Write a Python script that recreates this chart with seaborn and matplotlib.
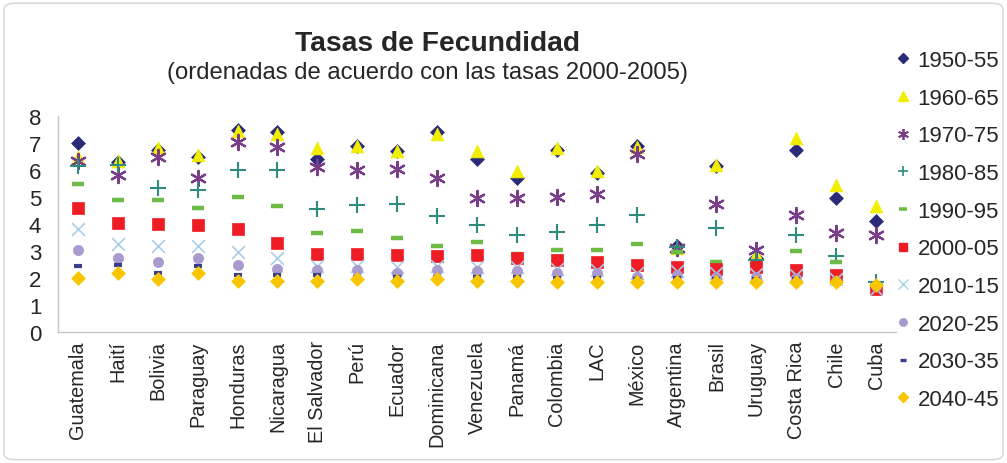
import numpy as np
import pandas as pd
import matplotlib
matplotlib.use("Agg")
import matplotlib.pyplot as plt
import seaborn as sns
from matplotlib.lines import Line2D
from matplotlib.patches import FancyBboxPatch

# ---------------- data ----------------
countries = ["Guatemala", "Haití", "Bolivia", "Paraguay", "Honduras", "Nicaragua",
             "El Salvador", "Perú", "Ecuador", "Dominicana", "Venezuela", "Panamá",
             "Colombia", "LAC", "México", "Argentina", "Brasil", "Uruguay",
             "Costa Rica", "Chile", "Cuba"]

periods = ["1950-55", "1960-65", "1970-75", "1980-85", "1990-95",
           "2000-05", "2010-15", "2020-25", "2030-35", "2040-45"]

s1950 = [7.0, 6.3, 6.75, 6.5, 7.5, 7.4, 6.4, 6.9, 6.7, 7.4, 6.4, 5.7, 6.75, 5.9, 6.9, 3.2, 6.15, 2.73, 6.75, 4.95, 4.1]
s1960 = [6.5, 6.35, 6.8, 6.55, 7.45, 7.35, 6.8, 6.9, 6.7, 7.35, 6.7, 5.95, 6.8, 5.95, 6.85, 3.1, 6.2, 2.9, 7.2, 5.45, 4.65]
s1970 = [6.35, 5.8, 6.5, 5.7, 7.05, 6.85, 6.1, 6.0, 6.05, 5.7, 4.95, 4.95, 5.0, 5.1, 6.6, 3.1, 4.75, 3.05, 4.35, 3.65, 3.6]
s1980 = [6.15, 6.2, 5.35, 5.25, 6.0, 6.0, 4.55, 4.7, 4.75, 4.3, 3.95, 3.6, 3.7, 3.95, 4.35, 3.15, 3.85, 2.65, 3.6, 2.8, 1.85]
s1990 = [5.5, 4.9, 4.9, 4.6, 5.0, 4.65, 3.65, 3.75, 3.5, 3.2, 3.35, 2.9, 3.05, 3.05, 3.25, 2.95, 2.6, 2.5, 3.0, 2.6, 1.65]
s2000 = [4.6, 4.05, 4.0, 3.95, 3.8, 3.3, 2.9, 2.9, 2.85, 2.8, 2.85, 2.75, 2.65, 2.6, 2.5, 2.4, 2.35, 2.4, 2.3, 2.1, 1.6]
s2010 = [3.8, 3.25, 3.2, 3.2, 2.95, 2.75, 2.45, 2.45, 2.4, 2.45, 2.4, 2.4, 2.35, 2.3, 2.2, 2.25, 2.2, 2.15, 2.1, 1.95, 1.6]
s2020 = [3.05, 2.75, 2.6, 2.75, 2.5, 2.35, 2.3, 2.3, 2.2, 2.3, 2.25, 2.25, 2.2, 2.2, 2.05, 2.1, 2.05, 2.05, 2.0, 1.9, 1.7]
s2030 = [2.45, 2.5, 2.2, 2.45, 2.1, 2.1, 2.1, 2.05, 2.05, 2.05, 2.05, 2.05, 2.0, 2.0, 1.95, 2.0, 1.95, 1.95, 1.95, 1.85, 1.75]
s2040 = [2.0, 2.2, 1.95, 2.2, 1.9, 1.9, 1.9, 1.95, 1.9, 1.95, 1.9, 1.9, 1.87, 1.87, 1.87, 1.85, 1.85, 1.85, 1.85, 1.85, 1.75]

series = [s1950, s1960, s1970, s1980, s1990, s2000, s2010, s2020, s2030, s2040]

# ---------------- styles ----------------
styles = [
    dict(marker="D", color="#2B2A78", s=50, lw=0.5),
    dict(marker="^", color="#F2EE00", s=85, lw=0.5),
    dict(marker=(6, 2, 0), color="#7A3D8A", s=120, lw=1.6),
    dict(marker="+", color="#2E8B7E", s=120, lw=1.5),
    dict(marker="_", color="#6CBB45", s=70, lw=3.2),
    dict(marker="s", color="#EE1C25", s=65, lw=0.5),
    dict(marker="x", color="#A9CDE6", s=85, lw=1.2),
    dict(marker="o", color="#A99BCF", s=55, lw=0.5),
    dict(marker="_", color="#3A3D8F", s=32, lw=3.0),
    dict(marker="D", color="#F7C600", s=50, lw=0.5),
]

sns.set_style("white")
plt.rcParams["font.family"] = ["Liberation Sans", "DejaVu Sans"]

fig = plt.figure(figsize=(10.07, 4.64), dpi=100)
ax = fig.add_axes([0.0576, 0.2823, 0.8322, 0.4655])

x = np.arange(len(countries))
for vals, st in zip(series, styles):
    df = pd.DataFrame({"x": x, "y": vals})
    filled = st["marker"] in ("D", "^", "s", "o")
    if filled:
        sns.scatterplot(data=df, x="x", y="y", ax=ax, marker=st["marker"],
                        color=st["color"], s=st["s"], edgecolor=st["color"],
                        linewidth=st["lw"], legend=False, zorder=3)
    else:
        sns.scatterplot(data=df, x="x", y="y", ax=ax, marker=st["marker"],
                        color=st["color"], s=st["s"], linewidth=st["lw"],
                        legend=False, zorder=3)

ax.set_xlim(-0.5, len(countries) - 0.5)
ax.set_ylim(0, 8)
ax.set_yticks(range(0, 9))
ax.set_yticklabels([str(i) for i in range(0, 9)], fontsize=16)
ax.set_xticks(x)
ax.set_xticklabels(countries, rotation=90, fontsize=14.3)
ax.set_xticks(np.arange(-0.5, len(countries), 1), minor=True)
ax.tick_params(axis="x", which="major", length=0, pad=6)
ax.tick_params(axis="x", which="minor", length=4, color="#C8C8C8", width=1, direction="out")
ax.tick_params(axis="y", length=0, pad=12)
ax.set_xlabel("")
ax.set_ylabel("")
for side in ["top", "right"]:
    ax.spines[side].set_visible(False)
for side in ["left", "bottom"]:
    ax.spines[side].set_color("#C8C8C8")
    ax.spines[side].set_linewidth(1.0)
ax.grid(False)

# titles
fig.text(0.434, 0.905, "Tasas de Fecundidad", ha="center", va="center",
         fontsize=20.3, fontweight="bold")
fig.text(0.425, 0.843, "(ordenadas de acuerdo con las tasas 2000-2005)", ha="center",
         va="center", fontsize=17.2)

# legend
handles = []
for st, lab in zip(styles, periods):
    filled = st["marker"] in ("D", "^", "s", "o")
    ms = np.sqrt(st["s"]) * 0.72
    if filled:
        h = Line2D([], [], linestyle="none", marker=st["marker"], color=st["color"],
                   markersize=ms, markeredgecolor=st["color"])
    else:
        h = Line2D([], [], linestyle="none", marker=st["marker"], color=st["color"],
                   markersize=ms, markeredgewidth=st["lw"] * 0.8)
    handles.append(h)
fig.legend(handles, periods, loc="upper left", bbox_to_anchor=(0.889, 0.890),
           frameon=False, fontsize=16, handlelength=0.7, handletextpad=0.3,
           labelspacing=0.75, borderaxespad=0, borderpad=0)

# figure frame
frame = FancyBboxPatch((0.004, 0.007), 0.992, 0.984, boxstyle="round,pad=0,rounding_size=0.012",
                       transform=fig.transFigure, facecolor="none", edgecolor="#D4D4D4",
                       linewidth=1.0)
fig.patches.append(frame)

fig.savefig("out.png", dpi=100)
